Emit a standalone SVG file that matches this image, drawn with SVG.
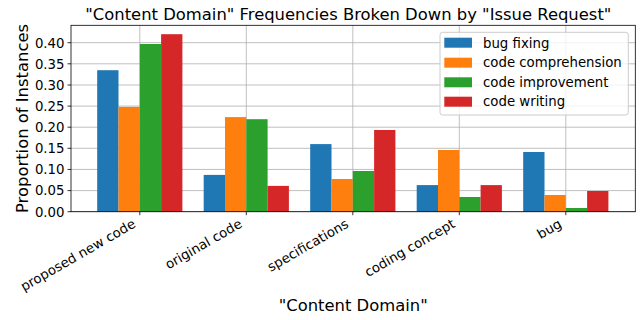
<svg xmlns="http://www.w3.org/2000/svg" width="641" height="320" viewBox="0 0 641 320">
<style>
text{font-family:"DejaVu Sans","Liberation Sans",sans-serif;fill:#000}
.tick{font-size:13.3px}
.lab{font-size:16.4px}
.grid{stroke:#b0b0b0;stroke-width:0.8}
.spine{stroke:#000;stroke-width:0.8;fill:none}
.tk{stroke:#000;stroke-width:0.8}
.b{fill:#1f77b4}.o{fill:#ff7f0e}.g{fill:#2ca02c}.r{fill:#d62728}
</style>
<rect width="641" height="320" fill="#fff"/>
<g id="grid">
<line class="grid" x1="71" x2="635.3" y1="211.7" y2="211.7"/>
<line class="grid" x1="71" x2="635.3" y1="190.6" y2="190.6"/>
<line class="grid" x1="71" x2="635.3" y1="169.45" y2="169.45"/>
<line class="grid" x1="71" x2="635.3" y1="148.3" y2="148.3"/>
<line class="grid" x1="71" x2="635.3" y1="127.2" y2="127.2"/>
<line class="grid" x1="71" x2="635.3" y1="106.1" y2="106.1"/>
<line class="grid" x1="71" x2="635.3" y1="85" y2="85"/>
<line class="grid" x1="71" x2="635.3" y1="63.8" y2="63.8"/>
<line class="grid" x1="71" x2="635.3" y1="42.7" y2="42.7"/>
<line class="grid" x1="139.8" x2="139.8" y1="25.3" y2="211.7"/>
<line class="grid" x1="246.3" x2="246.3" y1="25.3" y2="211.7"/>
<line class="grid" x1="352.8" x2="352.8" y1="25.3" y2="211.7"/>
<line class="grid" x1="459.3" x2="459.3" y1="25.3" y2="211.7"/>
<line class="grid" x1="565.8" x2="565.8" y1="25.3" y2="211.7"/>
</g>
<g id="bars-proposed-new-code">
<rect class="b" x="97.2" y="70.2" width="21.3" height="141.5"/>
<rect class="o" x="118.5" y="106.9" width="21.3" height="104.8"/>
<rect class="g" x="139.8" y="44.0" width="21.3" height="167.7"/>
<rect class="r" x="161.1" y="34.2" width="21.3" height="177.5"/>
</g>
<g id="bars-original-code">
<rect class="b" x="203.7" y="174.9" width="21.3" height="36.8"/>
<rect class="o" x="225.0" y="117.1" width="21.3" height="94.6"/>
<rect class="g" x="246.3" y="119.2" width="21.3" height="92.5"/>
<rect class="r" x="267.6" y="185.9" width="21.3" height="25.8"/>
</g>
<g id="bars-specifications">
<rect class="b" x="310.2" y="144.1" width="21.3" height="67.6"/>
<rect class="o" x="331.5" y="179.0" width="21.3" height="32.7"/>
<rect class="g" x="352.8" y="171.0" width="21.3" height="40.7"/>
<rect class="r" x="374.1" y="130.0" width="21.3" height="81.7"/>
</g>
<g id="bars-coding-concept">
<rect class="b" x="416.7" y="185.1" width="21.3" height="26.6"/>
<rect class="o" x="438.0" y="150.0" width="21.3" height="61.7"/>
<rect class="g" x="459.3" y="197.0" width="21.3" height="14.7"/>
<rect class="r" x="480.6" y="185.1" width="21.3" height="26.6"/>
</g>
<g id="bars-bug">
<rect class="b" x="523.2" y="152.0" width="21.3" height="59.7"/>
<rect class="o" x="544.5" y="195.0" width="21.3" height="16.7"/>
<rect class="g" x="565.8" y="208.0" width="21.3" height="3.7"/>
<rect class="r" x="587.1" y="191.0" width="21.3" height="20.7"/>
</g>
<g id="axes">
<rect class="spine" x="71" y="25.3" width="564.3" height="186.4"/>
<line class="tk" x1="67.5" x2="71" y1="211.7" y2="211.7"/>
<line class="tk" x1="67.5" x2="71" y1="190.6" y2="190.6"/>
<line class="tk" x1="67.5" x2="71" y1="169.45" y2="169.45"/>
<line class="tk" x1="67.5" x2="71" y1="148.3" y2="148.3"/>
<line class="tk" x1="67.5" x2="71" y1="127.2" y2="127.2"/>
<line class="tk" x1="67.5" x2="71" y1="106.1" y2="106.1"/>
<line class="tk" x1="67.5" x2="71" y1="85" y2="85"/>
<line class="tk" x1="67.5" x2="71" y1="63.8" y2="63.8"/>
<line class="tk" x1="67.5" x2="71" y1="42.7" y2="42.7"/>
<line class="tk" x1="139.8" x2="139.8" y1="211.7" y2="215.2"/>
<line class="tk" x1="246.3" x2="246.3" y1="211.7" y2="215.2"/>
<line class="tk" x1="352.8" x2="352.8" y1="211.7" y2="215.2"/>
<line class="tk" x1="459.3" x2="459.3" y1="211.7" y2="215.2"/>
<line class="tk" x1="565.8" x2="565.8" y1="211.7" y2="215.2"/>
<g class="tick" text-anchor="end">
<text x="64.5" y="216.5">0.00</text>
<text x="64.5" y="195.4">0.05</text>
<text x="64.5" y="174.25">0.10</text>
<text x="64.5" y="153.1">0.15</text>
<text x="64.5" y="132">0.20</text>
<text x="64.5" y="110.9">0.25</text>
<text x="64.5" y="89.8">0.30</text>
<text x="64.5" y="68.6">0.35</text>
<text x="64.5" y="47.5">0.40</text>
<text transform="translate(136.5,226.5) rotate(-30)">proposed new code</text>
<text transform="translate(243,226.5) rotate(-30)">original code</text>
<text transform="translate(349.5,226.5) rotate(-30)">specifications</text>
<text transform="translate(456,226.5) rotate(-30)">coding concept</text>
<text transform="translate(562.5,226.5) rotate(-30)">bug</text>
</g>
<text class="lab" x="353.2" y="310.7" text-anchor="middle">"Content Domain"</text>
<text class="lab" transform="translate(28.3,118.5) rotate(-90)" text-anchor="middle">Proportion of Instances</text>
<text class="lab" x="348.3" y="20" text-anchor="middle">"Content Domain" Frequencies Broken Down by "Issue Request"</text>
</g>
<g id="legend">
<rect x="440" y="32.3" width="188.3" height="82.7" rx="2.5" fill="#fff" fill-opacity="0.8" stroke="#cccccc" stroke-width="1"/>
<rect class="b" x="444.3" y="37.7" width="27.7" height="10"/>
<rect class="o" x="444.3" y="57.7" width="27.7" height="10"/>
<rect class="g" x="444.3" y="77.3" width="27.7" height="10"/>
<rect class="r" x="444.3" y="96.7" width="27.7" height="10"/>
<g class="tick">
<text x="483" y="47.5">bug fixing</text>
<text x="483" y="67.3">code comprehension</text>
<text x="483" y="86.9">code improvement</text>
<text x="483" y="106.3">code writing</text>
</g>
</g>
</svg>
